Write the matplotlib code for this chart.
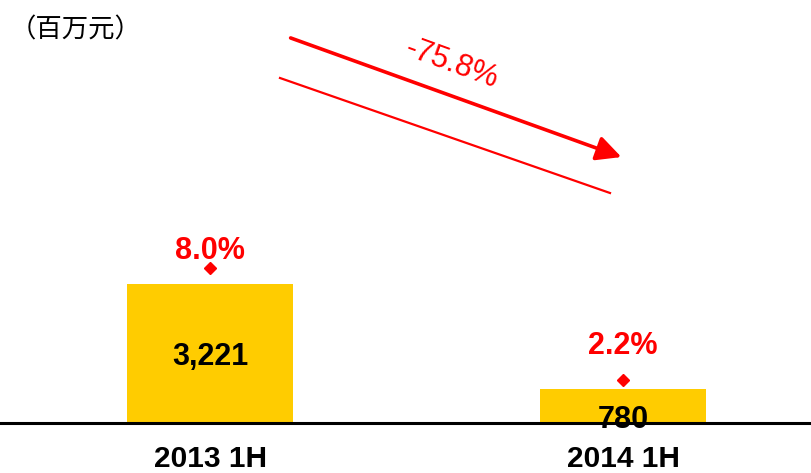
import matplotlib
matplotlib.use("Agg")
import matplotlib.pyplot as plt

categories = ["2013 1H", "2014 1H"]
values = [3221, 780]
value_labels = ["3,221", "780"]
margins = [8.0, 2.2]
margin_labels = ["8.0%", "2.2%"]
change_label = "-75.8%"
unit_label = "（百万元）"

W, H = 811, 473
fig = plt.figure(figsize=(W / 100, H / 100), dpi=100)
base = 423
ax = fig.add_axes([0, (H - base) / H, 1, base / H])
px_per_unit = 139 / 3221
ax.set_ylim(0, base / px_per_unit)
ax.set_xlim(-210 / 413, 1 + (W - 623) / 413)
x = list(range(len(categories)))
ax.bar(x, values, width=166 / 413, color="#FFCC00", zorder=2)
for xi, v, lab, off in zip(x, values, value_labels, [-2.5, -10]):
    ax.annotate(lab, (xi, v / 2), xytext=(0, off), textcoords="offset points",
                ha="center", va="center", fontsize=22, fontweight="bold",
                family="Liberation Sans", color="black", zorder=5,
                annotation_clip=False).set_clip_on(False)
for s in ax.spines.values():
    s.set_visible(False)
ax.set_xticks([])
ax.set_yticks([])
ax.axhline(0, color="black", lw=2.2, zorder=4, clip_on=False)
for xi, c in zip(x, categories):
    ax.annotate(c, (xi, 0), xytext=(0, -26), textcoords="offset points",
                ha="center", va="center", fontsize=21.5, fontweight="bold",
                family="Liberation Sans", annotation_clip=False)

ax2 = ax.twinx()
ax2.set_ylim(0, base / 19.4)
ax2.set_yticks([])
for s in ax2.spines.values():
    s.set_visible(False)
ax2.plot(x, margins, linestyle="none", marker="D", markersize=6.5, color="red", zorder=5)
for xi, m, lab, off in zip(x, margins, margin_labels, [12, 25]):
    ax2.annotate(lab, (xi, m), xytext=(0, off), textcoords="offset points",
                 ha="center", va="center", fontsize=22, fontweight="bold",
                 color="red", family="Liberation Sans")

def fp(px, py):
    return (px / W, 1 - py / H)

fig.add_artist(matplotlib.patches.FancyArrowPatch(
    fp(288, 37), fp(624, 158), transform=fig.transFigure,
    arrowstyle="-|>,head_length=10,head_width=5", color="red", lw=2.6,
    mutation_scale=1.5))
fig.add_artist(matplotlib.lines.Line2D(
    [280 / W, 610 / W], [1 - 78 / H, 1 - 193 / H], color="red", lw=1.6,
    transform=fig.transFigure))
fig.text(452 / W, 1 - 64 / H, change_label, rotation=-20, ha="center", va="center",
         fontsize=22, color="red", family="Liberation Sans", rotation_mode="anchor")
fig.text(10 / W, 1 - 30 / H, unit_label, ha="left", va="center", fontsize=19,
         family=["Noto Sans CJK SC", "DejaVu Sans"])

fig.savefig("out.png", dpi=100)
